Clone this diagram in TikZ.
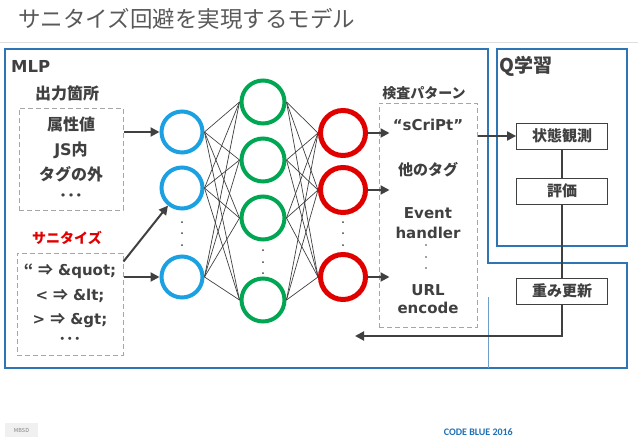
\documentclass[tikz,border=0pt]{standalone}
\usepackage{fontspec}
\setmainfont{Noto Sans CJK JP}
\newfontfamily\latin{DejaVu Sans}
\newfontfamily\cjkfont{Noto Sans CJK JP}
\newfontfamily\footfont{Carlito}
\usepackage{xcolor}
\usetikzlibrary{positioning,arrows.meta,calc}

\definecolor{txtgray}{HTML}{404040}
\definecolor{titlegray}{HTML}{595959}
\definecolor{framecol}{HTML}{2E75B6}
\definecolor{incol}{HTML}{1BA1E2}
\definecolor{hidcol}{HTML}{00A651}
\definecolor{outcol}{HTML}{E00000}
\definecolor{cbblue}{HTML}{1F6FB5}
\newcommand\impl{\hspace{5pt}{\cjkfont\bfseries ⇒}\hspace{5pt}}

\begin{document}
\begin{tikzpicture}[
  x=1pt, y=-1pt,
  font=\bfseries\fontsize{15}{22}\selectfont, text=txtgray,
  frame/.style={draw=framecol, line width=1.6pt},
  lbl/.style={inner sep=0pt},
  dbox/.style={draw=gray!70, dashed, dash pattern=on 5pt off 3pt, line width=1pt, align=center,
               font=\bfseries\fontsize{16}{22}\selectfont},
  qbox/.style={draw=txtgray, line width=0.8pt, fill=white, minimum width=91, minimum height=26, inner sep=0pt},
  unit/.style={circle, line width=4pt, minimum size=41, inner sep=0pt},
  arr/.style={-{Triangle[length=9pt,width=9pt]}, line width=2pt, draw=txtgray},
  wire/.style={draw=txtgray, line width=0.7pt}
]
\useasboundingbox (0,0) rectangle (638,442);

% title
\node[lbl, anchor=west, font=\fontsize{22.5}{26}\selectfont, text=titlegray] (title) at (18,19) {サニタイズ回避を実現するモデル};
\draw[gray!25, line width=0.8pt] (0,42) -- (638,42);

% frames
\draw[frame] (5,49) -- (488,49) -- (488,263) -- (627,263) -- (627,368) -- (5,368) -- cycle;
\draw[frame] (497,49) rectangle (627,246);
\draw[framecol!70, line width=0.4pt] (488,297) -- (488,368);
\node[lbl, anchor=base west, font=\latin\bfseries\fontsize{16.5}{20}\selectfont] (mlp) at (11,72) {MLP};
\node[lbl, anchor=base west, font=\bfseries\fontsize{19}{22}\selectfont] (qlearn) at (499,72) {Q学習};

% input side
\node[lbl, font=\bfseries\fontsize{16}{20}\selectfont] (placelbl) at (67,93) {出力箇所};
\node[dbox, minimum width=104, minimum height=102] (place) at (71,159)
  {属性値\\[3pt]{\latin JS}内\\[3pt]タグの外\\[-1pt]･･･};
\node[lbl, text=outcol, font=\bfseries\fontsize{14}{18}\selectfont] (sanlbl) at (67,238) {サニタイズ};
\node[dbox, minimum width=106, minimum height=102, font=\latin\bfseries\fontsize{15}{22}\selectfont] (san) at (70,304)
  {{\cjkfont\bfseries “}\impl\&quot;\\[3pt]<\impl\&lt;\\[2pt]>\impl\&gt;\\[-2pt]{\cjkfont\bfseries ･･･}};

% layers
\node[unit, draw=incol] (b1) at (182,132) {};
\node[unit, draw=incol] (b2) at (182,188) {};
\node[unit, draw=incol] (b3) at (182,277) {};
\node[unit, draw=hidcol, minimum size=43] (g1) at (263,102) {};
\node[unit, draw=hidcol, minimum size=43] (g2) at (263,160) {};
\node[unit, draw=hidcol, minimum size=43] (g3) at (263,218) {};
\node[unit, draw=hidcol, minimum size=43] (g4) at (263,300) {};
\node[unit, draw=outcol, line width=5pt, minimum size=45] (r1) at (343,133) {};
\node[unit, draw=outcol, line width=5pt, minimum size=45] (r2) at (343,190) {};
\node[unit, draw=outcol, line width=5pt, minimum size=45] (r3) at (343,277) {};

\foreach \i in {b1,b2,b3}
  \foreach \j in {g1,g2,g3,g4}
    \draw[wire] (\i.east) -- (\j.west);
\foreach \i in {g1,g2,g3,g4}
  \foreach \j in {r1,r2,r3}
    \draw[wire] (\i.east) -- (\j.west);

\foreach \y in {222,233,245} {
  \fill[txtgray] (182,\y) circle (1pt);
  \fill[txtgray] (343,\y) circle (1pt);
}
\foreach \y in {250,262,273}
  \fill[txtgray] (263,\y) circle (1pt);

\draw[arr] (place.east |- b1) -- (b1.west);
\draw[arr] ([yshift=-9]san.north east) -- (b2);
\draw[arr] (san.east |- b3) -- (b3.west);

% output side
\node[lbl, font=\bfseries\fontsize{14}{18}\selectfont] (kensalbl) at (424,93) {検査パターン};
\node[dbox, minimum width=98, minimum height=224] (kensa) at (428,215) {};
\node[lbl, font=\latin\bfseries\fontsize{15}{18}\selectfont] (pat1) at (428,125) {“sCriPt”};
\node[lbl] (pat2) at (428,170) {他のタグ};
\node[lbl, align=center, font=\latin\bfseries\fontsize{15}{20}\selectfont] (pat3) at (428,223) {Event\\handler};
\node[lbl, align=center, font=\latin\bfseries\fontsize{15}{18}\selectfont] (pat4) at (428,299) {URL\\encode};
\foreach \y in {245,257,268}
  \fill[txtgray] (426,\y) circle (0.9pt);

\draw[arr] (r1.east) -- ([xshift=11]kensa.west |- r1);
\draw[arr] (r2.east) -- ([xshift=11]kensa.west |- r2);
\draw[arr] (r3.east) -- ([xshift=11]kensa.west |- r3);

% Q learning
\node[qbox] (obs) at (562,136) {状態観測};
\node[qbox] (hyoka) at (562,191) {評価};
\coordinate (fb) at (355,336);
\draw[arr] (kensa.east |- obs) -- (obs.west);
\draw[line width=2pt, txtgray] (obs.south) -- (hyoka.north);
\draw[arr] (hyoka.south) |- (fb);
\node[qbox] (weight) at (562,291) {重み更新};

% footer
\node[fill=gray!12, minimum width=33, minimum height=14, inner sep=0pt,
      font=\fontsize{5.5}{6}\selectfont, text=gray] (mbsd) at (21.5,430) {MBSD};
\node[lbl, anchor=east, text=cbblue, font=\footfont\bfseries\fontsize{10}{12}\selectfont] (cb) at (513,432) {CODE BLUE 2016};
\end{tikzpicture}
\end{document}
